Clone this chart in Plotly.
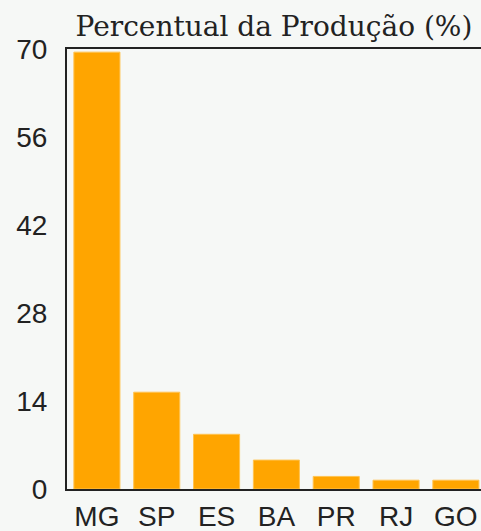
import plotly.graph_objects as go

# Production share by state (%)
states = ["MG", "SP", "ES", "BA", "PR", "RJ", "GO"]
share_pct = [69.5, 15.4, 8.7, 4.6, 2.0, 1.4, 1.4]
y_ticks = [0, 14, 28, 42, 56, 70]

bg = "#f6f8f6"
bar_color = "#ffa500"
axis_color = "#222222"

fig = go.Figure(
    go.Bar(
        x=states,
        y=share_pct,
        marker=dict(color=bar_color, line=dict(color="#ffc350", width=1)),
    )
)

fig.update_layout(
    width=481,
    height=531,
    margin=dict(l=67, r=0, t=49, b=42, autoexpand=False),
    paper_bgcolor=bg,
    plot_bgcolor=bg,
    bargap=0.23,
    showlegend=False,
    title=dict(
        text="Percentual da Produção (%)",
        x=0.5,
        xref="paper",
        xanchor="center",
        y=1,
        yref="paper",
        yanchor="bottom",
        pad=dict(b=13),
        font=dict(family="DejaVu Serif", size=28, color="#222222"),
    ),
    font=dict(family="Liberation Sans", size=28, color="#222222"),
)

fig.update_xaxes(
    range=[-0.5, 6.42],
    showline=True,
    linecolor=axis_color,
    linewidth=2,
    mirror=True,
    showgrid=False,
    zeroline=False,
    ticks="outside",
    ticklen=1,
    tickcolor="rgba(0,0,0,0)",
    automargin=False,
)

fig.update_yaxes(
    range=[0, 70],
    tickvals=y_ticks,
    showline=True,
    linecolor=axis_color,
    linewidth=2,
    showgrid=False,
    zeroline=False,
    ticks="outside",
    ticklen=12,
    tickcolor="rgba(0,0,0,0)",
    automargin=False,
)

fig.write_html("out.html")
